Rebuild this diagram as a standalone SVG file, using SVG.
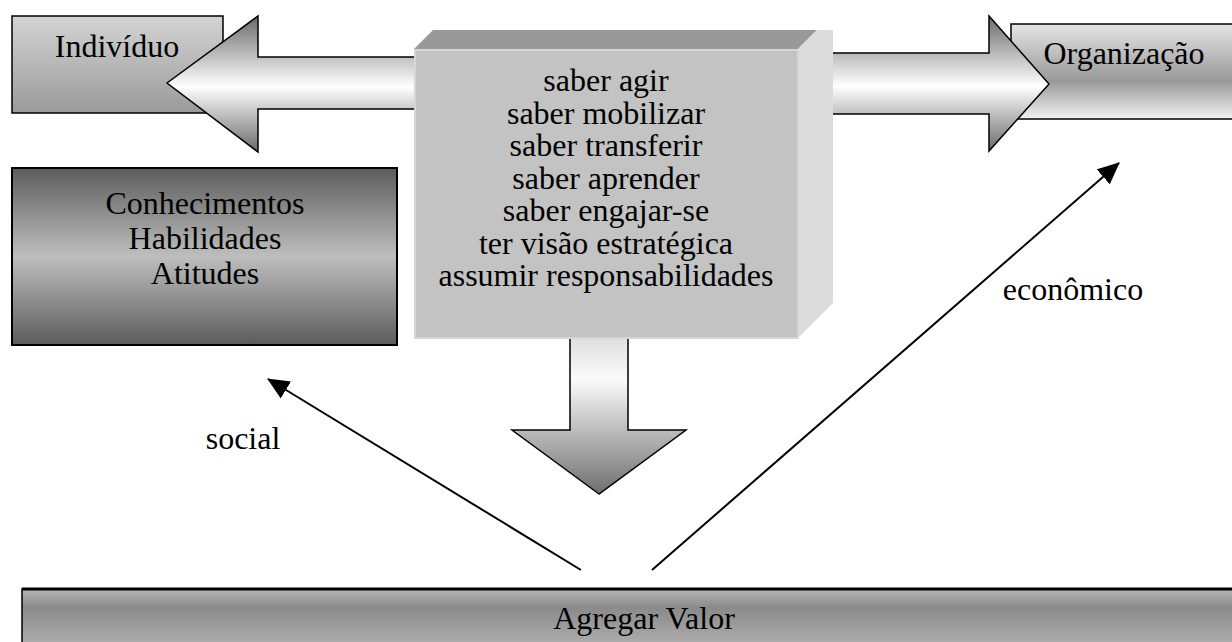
<svg xmlns="http://www.w3.org/2000/svg" width="1232" height="642" viewBox="0 0 1232 642">
  <defs>
    <style>
      text { font-family: "Liberation Serif", "Times New Roman", serif; font-size: 32px; fill: #000; text-anchor: middle; }
      .box { stroke: #000; stroke-width: 1.5; }
      .bigarrow { stroke: #000; stroke-width: 1.5; stroke-linejoin: miter; }
      .conn { fill: none; stroke: #000; stroke-width: 2; marker-end: url(#head); }
    </style>
    <linearGradient id="gIndividuo" x1="0" y1="0" x2="0" y2="1">
      <stop offset="0" stop-color="#d4d4d4"/>
      <stop offset="1" stop-color="#9a9a9a"/>
    </linearGradient>
    <linearGradient id="gOrg" x1="0" y1="0" x2="0" y2="1">
      <stop offset="0" stop-color="#e4e4e4"/>
      <stop offset="0.6" stop-color="#999999"/>
      <stop offset="1" stop-color="#f2f2f2"/>
    </linearGradient>
    <linearGradient id="gHoriz" x1="0" y1="0" x2="0" y2="1">
      <stop offset="0" stop-color="#6a6a6a"/>
      <stop offset="0.52" stop-color="#ffffff"/>
      <stop offset="1" stop-color="#6a6a6a"/>
    </linearGradient>
    <linearGradient id="gDown" x1="0" y1="0" x2="0" y2="1">
      <stop offset="0" stop-color="#dadada"/>
      <stop offset="0.3" stop-color="#fbfbfb"/>
      <stop offset="1" stop-color="#6e6e6e"/>
    </linearGradient>
    <linearGradient id="gCHA" x1="0" y1="0" x2="0" y2="1">
      <stop offset="0" stop-color="#5c5c5c"/>
      <stop offset="0.5" stop-color="#bebebe"/>
      <stop offset="1" stop-color="#5c5c5c"/>
    </linearGradient>
    <linearGradient id="gValor" gradientUnits="userSpaceOnUse" x1="0" y1="589" x2="0" y2="642">
      <stop offset="0" stop-color="#b6b6b6"/>
      <stop offset="0.35" stop-color="#8a8a8a"/>
      <stop offset="1" stop-color="#ababab"/>
    </linearGradient>
    <marker id="head" markerUnits="userSpaceOnUse" markerWidth="22" markerHeight="20" refX="21" refY="10" orient="auto">
      <path d="M0,0 L22,10 L0,20 Z" fill="#000"/>
    </marker>
  </defs>

  <rect width="1232" height="642" fill="#fff"/>

  <!-- side boxes -->
  <g id="individuo">
    <rect class="box" x="12" y="16" width="211" height="97" fill="url(#gIndividuo)"/>
    <text x="117" y="57">Indivíduo</text>
  </g>
  <g id="organizacao">
    <rect class="box" x="1011" y="24" width="240" height="95" fill="url(#gOrg)"/>
    <text x="1124" y="64">Organização</text>
  </g>

  <!-- block arrows out of the competence cube -->
  <g id="arrow-left">
    <polygon class="bigarrow" fill="url(#gHoriz)" points="167,83 258,16 258,57 430,57 430,109 258,109 258,152"/>
  </g>
  <g id="arrow-right">
    <polygon class="bigarrow" fill="url(#gHoriz)" points="1049,84 989,16 989,53 820,53 820,114 989,114 989,151"/>
  </g>
  <g id="arrow-down">
    <polygon class="bigarrow" fill="url(#gDown)" points="599,494 512,430 570,430 570,330 628,330 628,430 686,430"/>
  </g>

  <!-- competence cube -->
  <g id="competencias">
    <polygon points="414,49 433,30 817,30 798,49" fill="#999999"/>
    <polygon points="798,49 817,30 833,30 833,303 798,338" fill="#dcdcdc"/>
    <rect x="415" y="50" width="383" height="288" fill="#c3c3c3" stroke="#d6d6d6" stroke-width="2"/>
    <text x="606" y="91">saber agir</text>
    <text x="606" y="123.5">saber mobilizar</text>
    <text x="606" y="156">saber transferir</text>
    <text x="606" y="188.5">saber aprender</text>
    <text x="606" y="221">saber engajar-se</text>
    <text x="606" y="253.5">ter visão estratégica</text>
    <text x="606" y="286">assumir responsabilidades</text>
  </g>

  <g id="cha">
    <rect x="12" y="168" width="385" height="177" fill="url(#gCHA)" stroke="#000" stroke-width="2"/>
    <text x="205" y="214">Conhecimentos</text>
    <text x="205" y="249">Habilidades</text>
    <text x="205" y="284">Atitudes</text>
  </g>

  <!-- value connectors -->
  <g id="connectors">
    <line class="conn" x1="581" y1="570" x2="268" y2="379"/>
    <line class="conn" x1="652" y1="570" x2="1119" y2="163"/>
    <text x="243" y="449">social</text>
    <text x="1073" y="300">econômico</text>
  </g>

  <g id="agregar-valor">
    <rect x="22" y="589" width="1230" height="70" fill="url(#gValor)" stroke="#000" stroke-width="1.5"/>
    <line x1="22" y1="589" x2="1232" y2="589" stroke="#000" stroke-width="3"/>
    <text x="644" y="629">Agregar Valor</text>
  </g>
</svg>
